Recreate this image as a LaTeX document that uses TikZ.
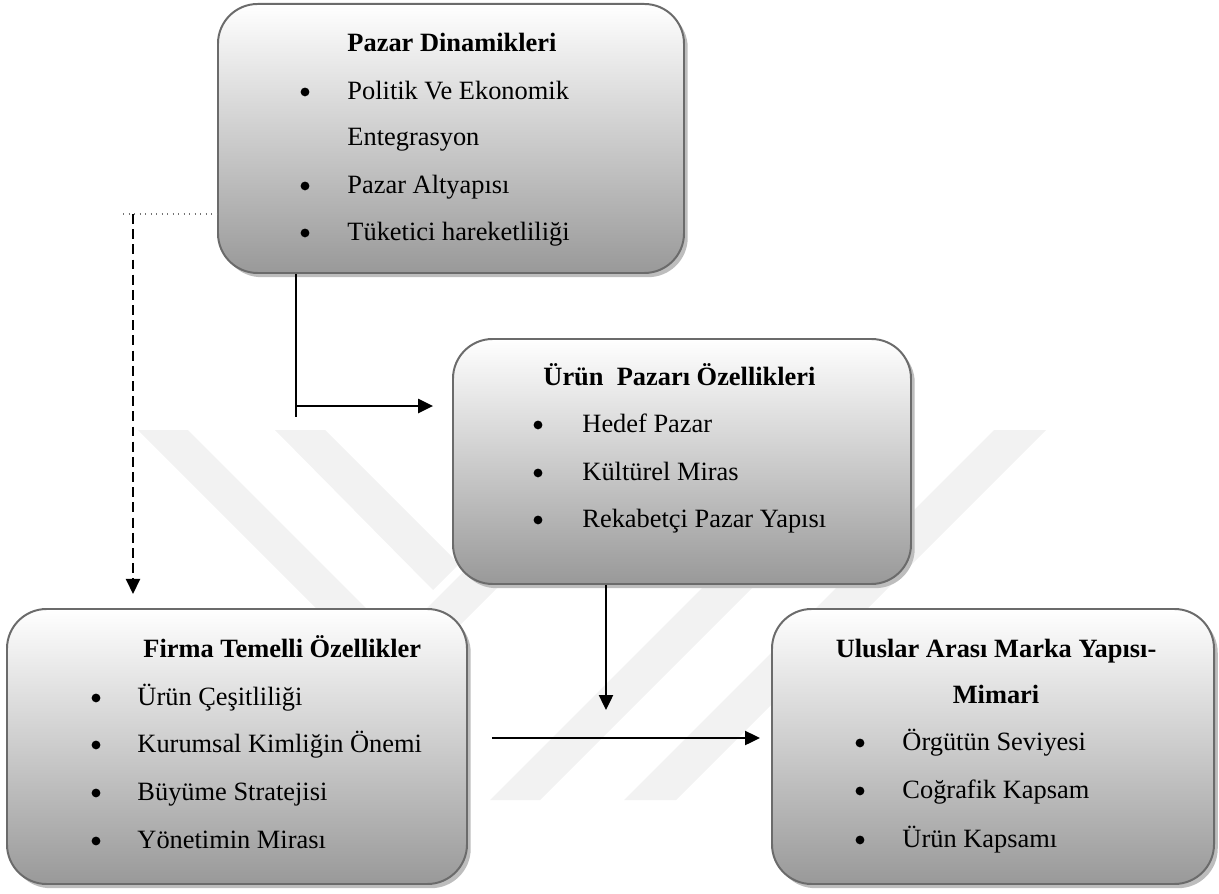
\documentclass[tikz,border=0pt]{standalone}
\usepackage{fontspec}
\setmainfont{Liberation Serif}
\usetikzlibrary{shadows,arrows.meta}
\def\pxu{0.4545pt}
\begin{document}
\begin{tikzpicture}[x=0.4545pt,y=-0.4545pt,
  panel/.style={rectangle, anchor=north west, inner sep=0pt,
    draw=black!58, line width=0.9pt, rounded corners=18pt,
    top color=white, bottom color=black!40,
    drop shadow={shadow xshift=1.7pt, shadow yshift=-1.9pt, fill=black!26, opacity=1}},
  ttl/.style={anchor=base west, inner sep=0pt, font=\fontsize{12}{14}\selectfont\bfseries},
  itm/.style={anchor=base west, inner sep=0pt, font=\fontsize{12}{14}\selectfont},
  bul/.style={circle, fill=black, inner sep=0pt, minimum size=4pt, yshift=3.2pt},
  link/.style={line width=0.9pt, black},
  tip/.style={-{Triangle[length=6.8pt,width=6.4pt]}},
  wm/.style={fill=black!5, draw=none}]
\useasboundingbox (0,0) rectangle (1219,893);

% faint background stripes
\fill[wm] (138,430) -- (188,430) -- (408,650) -- (358,650) -- cycle;
\fill[wm] (275,430) -- (325,430) -- (459,564) -- (433,590) -- cycle;
\fill[wm] (235,800) -- (285,800) -- (655,430) -- (605,430) -- cycle;
\fill[wm] (490,800) -- (540,800) -- (910,430) -- (860,430) -- cycle;
\fill[wm] (624,800) -- (676,800) -- (1046,430) -- (994,430) -- cycle;

% boxes
\node[panel, minimum width=466*\pxu, minimum height=269*\pxu] (b1) at (217,3) {};
\node[panel, minimum width=458*\pxu, minimum height=245*\pxu] (b2) at (452,338) {};
\node[panel, minimum width=460*\pxu, minimum height=275*\pxu] (b3) at (6,608) {};
\node[panel, minimum width=442*\pxu, minimum height=275*\pxu] (b4) at (771,608) {};

% Pazar Dinamikleri
\node[ttl] (b1t) at (347,52) {Pazar Dinamikleri};
\node[bul] (b1p1) at (305,99) {};
\node[itm] (b1i1) at (347,99) {Politik Ve Ekonomik};
\node[itm] (b1i1b) at (347,145) {Entegrasyon};
\node[bul] (b1p2) at (305,193) {};
\node[itm] (b1i2) at (347,193) {Pazar Altyapısı};
\node[bul] (b1p3) at (305,240) {};
\node[itm] (b1i3) at (347,240) {Tüketici hareketliliği};

% Ürün Pazarı Özellikleri
\node[ttl] (b2t) at (543,385) {Ürün\ \ Pazarı Özellikleri};
\node[bul] (b2p1) at (538,432) {};
\node[itm] (b2i1) at (582,432) {Hedef Pazar};
\node[bul] (b2p2) at (538,480) {};
\node[itm] (b2i2) at (582,480) {Kültürel Miras};
\node[bul] (b2p3) at (538,527) {};
\node[itm] (b2i3) at (582,527) {Rekabetçi Pazar Yapısı};

% Firma Temelli Özellikler
\node[ttl] (b3t) at (143,657) {Firma Temelli Özellikler};
\node[bul] (b3p1) at (96,705) {};
\node[itm] (b3i1) at (137,705) {Ürün Çeşitliliği};
\node[bul] (b3p2) at (96,752) {};
\node[itm] (b3i2) at (137,752) {Kurumsal Kimliğin Önemi};
\node[bul] (b3p3) at (96,800) {};
\node[itm] (b3i3) at (137,800) {Büyüme Stratejisi};
\node[bul] (b3p4) at (96,848) {};
\node[itm] (b3i4) at (137,848) {Yönetimin Mirası};

% Uluslar Arası Marka Yapısı-Mimari
\node[ttl, anchor=base] (b4t) at (996,657) {Uluslar Arası Marka Yapısı-};
\node[ttl, anchor=base] (b4tb) at (996,703) {Mimari};
\node[bul] (b4p1) at (860,750) {};
\node[itm] (b4i1) at (902,750) {Örgütün Seviyesi};
\node[bul] (b4p2) at (860,798) {};
\node[itm] (b4i2) at (902,798) {Coğrafik Kapsam};
\node[bul] (b4p3) at (860,847) {};
\node[itm] (b4i3) at (902,847) {Ürün Kapsamı};

% connectors
\coordinate (c1v) at (296,417);
\coordinate (c1h) at (296,406);
\draw[link, line width=0.8pt] (b1.south -| c1v) -- (c1v);
\draw[link, tip, shorten >=8.6pt] (c1h) -- (b2.west |- c1h);

\coordinate (d0) at (123,214);
\coordinate (d1) at (133,214);
\draw[black!55, line width=0.5pt, dotted] (d0) -- (b1.west |- d0);
\draw[link, line width=1pt, tip, dash pattern=on 4.5pt off 2.4pt, shorten >=6.4pt] (d1) -- (b3.north -| d1);

\coordinate (m) at (606,710);
\draw[link, tip] (b2.south -| m) -- (m);

\coordinate (h0) at (490,738);
\draw[link, tip, shorten <=10.9pt, shorten >=5pt] (b3.east |- h0) -- (b4.west |- h0);
\end{tikzpicture}
\end{document}
